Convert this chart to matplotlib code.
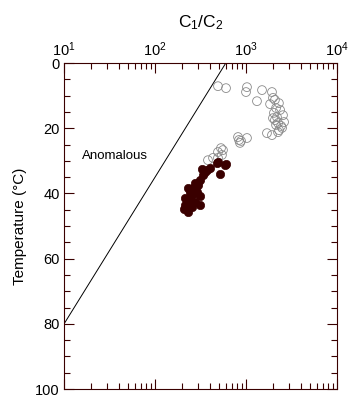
import matplotlib
matplotlib.use("Agg")
import matplotlib.pyplot as plt
from matplotlib.ticker import MultipleLocator, LogLocator, NullFormatter

plt.rcParams['font.family'] = ['Liberation Sans', 'DejaVu Sans']
plt.rcParams['mathtext.fontset'] = 'custom'
plt.rcParams['mathtext.rm'] = 'Liberation Sans'
plt.rcParams['mathtext.it'] = 'Liberation Sans'

# open circles (C1/C2 ratio, temperature in deg C)
open_ratio = [492, 603, 1025, 1000, 1500, 1320, 1930, 1980, 2300, 1840,
              2140, 2370, 2030, 2190, 2080, 2250, 2430, 2490, 2310, 1700,
              1930, 2250, 817, 1025, 838, 859, 881, 531, 558, 492,
              544, 434, 382, 492, 2080, 2550, 2140, 2620, 1980]
open_temp = [7.1, 7.7, 7.4, 8.9, 8.3, 11.7, 8.9, 10.7, 12.3, 12.6,
             13.8, 14.4, 15.3, 16.6, 17.5, 18.4, 19.3, 19.9, 20.6, 21.5,
             22.1, 21.2, 22.7, 23.0, 23.6, 24.5, 23.9, 26.1, 26.7, 27.3,
             28.2, 29.1, 29.8, 29.1, 11.3, 16.0, 19.0, 18.1, 16.9]

# filled circles
fill_ratio = [492, 603, 480, 587, 402, 328, 337, 518, 354, 312,
              297, 262, 231, 290, 262, 312, 243, 275, 231, 214,
              312, 255, 208, 231, 372, 275, 243, 214]
fill_temp = [30.4, 31.0, 30.7, 31.3, 32.2, 32.5, 34.4, 34.0, 33.4, 35.9,
             37.4, 38.3, 38.3, 39.6, 40.2, 40.8, 41.4, 42.6, 42.9, 43.6,
             43.6, 44.2, 44.8, 45.7, 32.8, 36.8, 39.6, 41.4]

# "anomalous" boundary line
line_ratio = [10, 600]
line_temp = [80, 0]

x_ticks = [10, 100, 1000, 10000]
x_labels = ['$10^{1}$', '$10^{2}$', '$10^{3}$', '$10^{4}$']
y_ticks = [0, 20, 40, 60, 80, 100]

dark = '#3a0000'

fig = plt.figure(figsize=(3.6, 4.04), dpi=100)
ax = fig.add_axes([0.178, 0.037, 0.758, 0.807])

ax.plot(line_ratio, line_temp, color='black', lw=0.7)
ax.scatter(open_ratio, open_temp, s=40, facecolors='none',
           edgecolors='#8a8a8a', linewidths=0.6, zorder=3)
ax.scatter(fill_ratio, fill_temp, s=36, color=dark, edgecolors=dark,
           linewidths=0.5, zorder=4)

ax.text(15.8, 28.6, 'Anomalous', fontsize=9.5, va='center', ha='left')

ax.set_xscale('log')
ax.set_xlim(10, 10000)
ax.set_ylim(100, 0)

ax.xaxis.tick_top()
ax.xaxis.set_label_position('top')
ax.set_xticks(x_ticks)
ax.set_xticklabels(x_labels)
ax.xaxis.set_minor_locator(LogLocator(base=10, subs=range(2, 10)))
ax.xaxis.set_minor_formatter(NullFormatter())
ax.set_yticks(y_ticks)
ax.yaxis.set_minor_locator(MultipleLocator(5))

ax.tick_params(which='both', direction='in', top=True, bottom=True,
               left=True, right=True, color=dark, labelsize=10.5, pad=3)
ax.tick_params(which='major', length=7, width=0.8)
ax.tick_params(which='minor', length=4, width=0.8)

for sp in ax.spines.values():
    sp.set_color(dark)
    sp.set_linewidth(0.8)

ax.set_xlabel('C$_1$/C$_2$', fontsize=12.5, labelpad=9)
ax.set_ylabel('Temperature (\u00b0C)', fontsize=11, labelpad=6)

fig.savefig('out.png', dpi=100)
